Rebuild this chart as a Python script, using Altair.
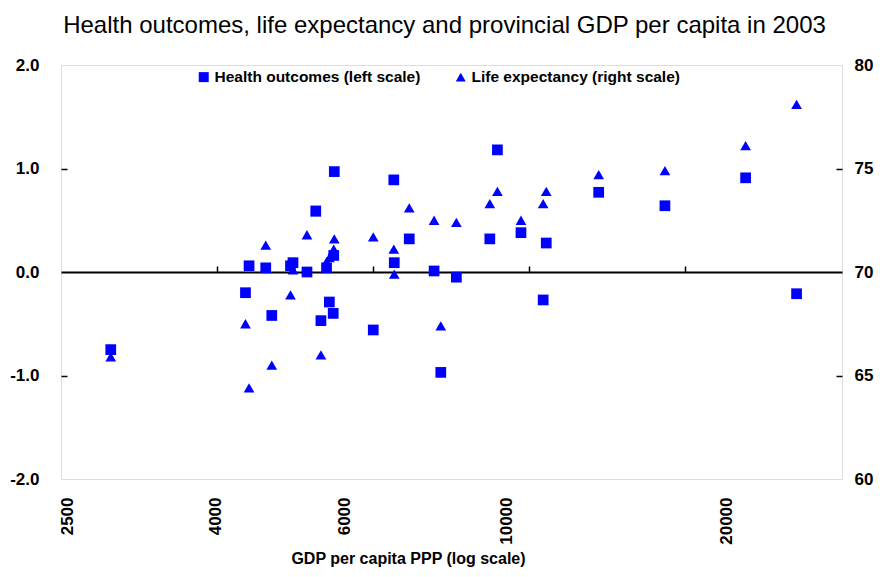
import altair as alt
import pandas as pd

# ---- data ----
gdp = [2870, 4390, 4440, 4680, 4770, 5060, 5100, 5330, 5480, 5570, 5670, 5720, 5790, 5810, 5800,
       6570, 7010, 7020, 7360, 7960, 8130, 8540, 9490, 9720, 10470, 11230, 11340, 13380, 16490, 21270, 24980]
health = [-0.75, -0.20, 0.06, 0.04, -0.42, 0.06, 0.09, 0.00, 0.59, -0.47, 0.04, -0.29, -0.40, 0.97, 0.16,
          -0.56, 0.89, 0.09, 0.32, 0.01, -0.97, -0.05, 0.32, 1.18, 0.38, -0.27, 0.28, 0.77, 0.64, 0.91, -0.21]
life = [65.9, 67.5, 64.4, 71.3, 65.5, 68.9, 70.1, 71.8, 72.9, 66.0, 70.5, 70.7, 71.0, 71.6, 71.1,
        71.7, 71.1, 69.9, 73.1, 72.5, 67.4, 72.4, 73.3, 73.9, 72.5, 73.3, 73.9, 74.7, 74.9, 76.1, 78.1]

series_names = ["Health outcomes (left scale)", "Life expectancy (right scale)"]
x_labels = [2500, 4000, 6000, 10000, 20000]
x_ticks = [4013, 6564, 10738, 17563]
x_domain = [2453, 28830]
left_ticks = [-2, -1, 0, 1, 2]
left_inner_ticks = [-1, 1]
right_ticks = [60, 65, 70, 75, 80]
right_inner_ticks = [65, 75]

TITLE = "Health outcomes, life expectancy and provincial GDP per capita in 2003"
FONT = "Liberation Sans, Arial, sans-serif"
BLUE = "#0000FF"
W, H = 781, 414

df = pd.DataFrame({"gdp": gdp, "health": health, "life": life})

shape_scale = alt.Scale(domain=series_names, range=["square", "triangle-up"])
legend = alt.Legend(orient="none", legendX=135, legendY=4, direction="horizontal", title=None,
                    labelFont=FONT, labelFontSize=15.5, labelFontWeight="bold", labelColor="black",
                    labelLimit=400, symbolSize=100, symbolFillColor=BLUE, symbolStrokeWidth=0,
                    columnPadding=32, labelOffset=3, padding=0)
xscale = alt.Scale(type="log", domain=x_domain, nice=False)
yl_scale = alt.Scale(domain=[-2, 2], nice=False)
yr_scale = alt.Scale(domain=[60, 80], nice=False, zero=False)

label_style = dict(labelFont=FONT, labelFontSize=17, labelFontWeight="bold", labelColor="black")

tri = alt.Chart(df).transform_calculate(series=f"'{series_names[1]}'").mark_point(
    filled=True, color=BLUE, size=115, opacity=1
).encode(
    x=alt.X("gdp:Q", scale=xscale,
            axis=alt.Axis(orient="top", offset=-H / 2, values=x_ticks, labels=False, title=None,
                          domain=True, domainColor="black", domainWidth=2,
                          ticks=True, tickColor="black", tickSize=6, tickWidth=1.5, grid=False)),
    y=alt.Y("life:Q", scale=yr_scale,
            axis=alt.Axis(orient="right", values=right_ticks, format="d", title=None,
                          domain=False, ticks=False, labelPadding=12, grid=False, **label_style)),
    shape=alt.Shape("series:N", scale=shape_scale, legend=legend),
)
tri_ticks = alt.Chart(df).mark_point(opacity=0).encode(
    y=alt.Y("life:Q", scale=yr_scale,
            axis=alt.Axis(orient="left", offset=-W, values=right_inner_ticks, labels=False, title=None,
                          domain=False, ticks=True, tickColor="black", tickWidth=1.5, tickSize=6,
                          grid=False)),
)

sq = alt.Chart(df).transform_calculate(series=f"'{series_names[0]}'").mark_point(
    filled=True, color=BLUE, size=115, opacity=1
).encode(
    x=alt.X("gdp:Q", scale=xscale,
            axis=alt.Axis(orient="bottom", values=x_labels, format="d", labelAngle=270,
                          labelFlush=False, labelOverlap=False, labelPadding=18,
                          domain=False, ticks=False, grid=False,
                          title="GDP per capita PPP (log scale)", titleFont=FONT, titleFontSize=16,
                          titleFontWeight="bold", titleColor="black", titleX=347, titleY=79,
                          titleBaseline="middle", titleAlign="center", **label_style)),
    y=alt.Y("health:Q", scale=yl_scale,
            axis=alt.Axis(orient="left", values=left_ticks, title=None,
                          labelExpr="datum.value < 0 ? '-' + format(-datum.value, '.1f') : format(datum.value, '.1f')",
                          domain=False, ticks=False, labelPadding=22, grid=False, **label_style)),
    shape=alt.Shape("series:N", scale=shape_scale, legend=legend),
)
sq_ticks = alt.Chart(df).mark_point(opacity=0).encode(
    y=alt.Y("health:Q", scale=yl_scale,
            axis=alt.Axis(orient="right", offset=-W, values=left_inner_ticks, labels=False, title=None,
                          domain=False, ticks=True, tickColor="black", tickWidth=1.5, tickSize=6,
                          grid=False)),
)

life_group = alt.layer(tri, tri_ticks).resolve_axis(y="independent")
health_group = alt.layer(sq, sq_ticks).resolve_axis(y="independent")

chart = alt.layer(life_group, health_group).resolve_scale(y="independent").resolve_axis(x="independent").properties(
    width=W, height=H,
    autosize=alt.AutoSizeParams(type="none"),
    padding={"left": 53, "top": 57, "right": 32, "bottom": 90},
    title=alt.TitleParams(TITLE, font=FONT, fontSize=24, fontWeight="normal", color="black",
                          anchor="middle", offset=21, dx=-7, dy=22, baseline="alphabetic"),
).configure_view(stroke="black", strokeWidth=1.5).configure(background="white")

chart.save("out.html", embed_options={"renderer": "svg", "actions": False})
